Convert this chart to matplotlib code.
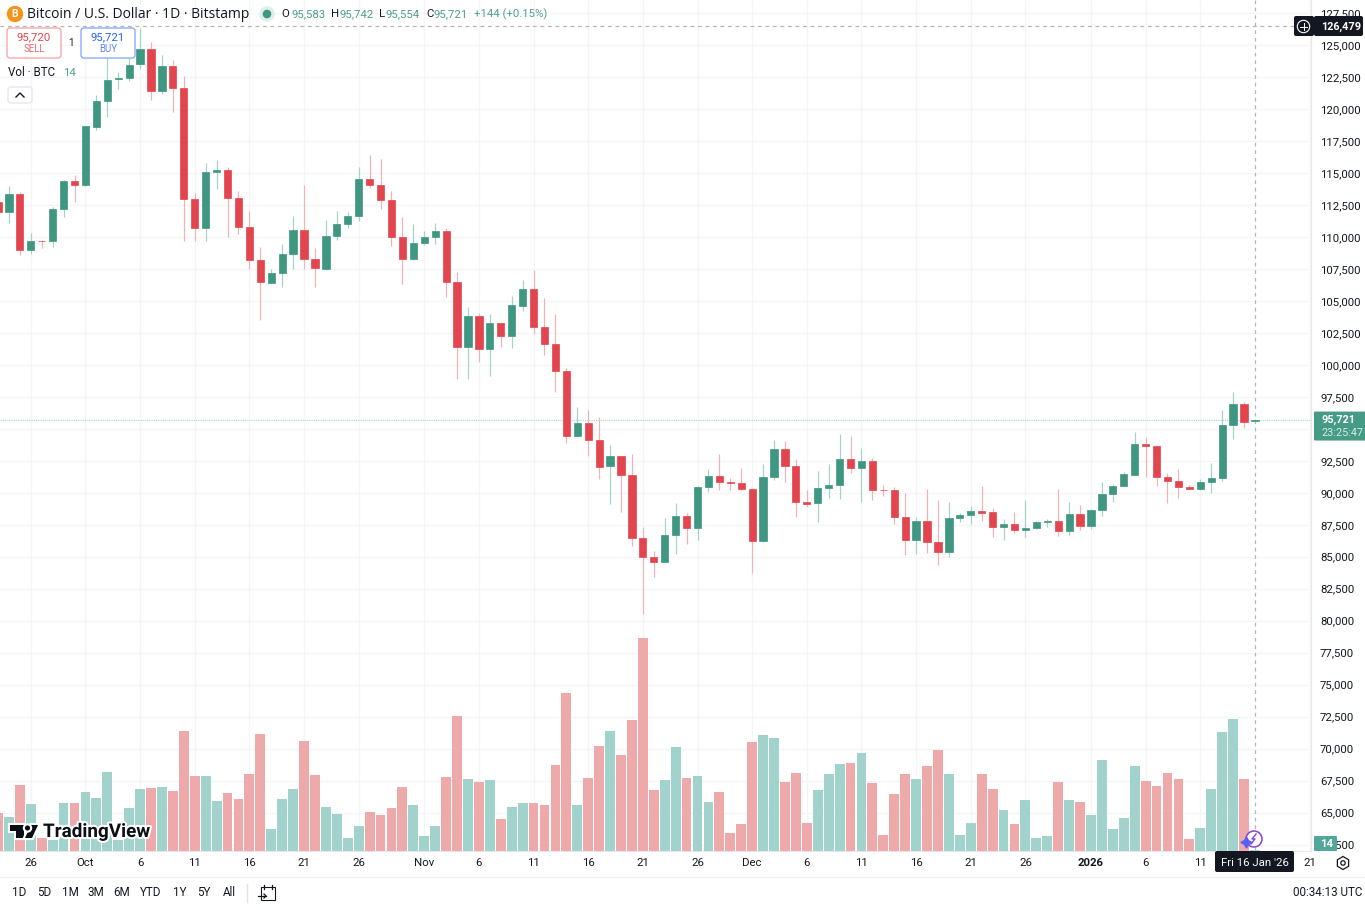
import numpy as np
import matplotlib
matplotlib.use('Agg')
import matplotlib.pyplot as plt
from matplotlib.patches import Circle, FancyBboxPatch, Polygon, Rectangle, RegularPolygon
import matplotlib.patheffects as pe

plt.rcParams['font.family'] = ['Open Sans', 'DejaVu Sans']
NUM_FONT = ['Roboto', 'DejaVu Sans']

# daily BTC/USD candles, 23 Sep 2025 to 16 Jan 2026
opens = [112728, 111969, 113353, 108976, 109703, 109656, 112180, 114346, 114033, 118614,
         120599, 122319, 122397, 123491, 124688, 121381, 123359, 121662, 112962, 110719,
         115073, 115229, 113064, 110773, 108170, 106419, 107178, 108640, 110539, 108248,
         107465, 110070, 111008, 111610, 114502, 114080, 112861, 109992, 108248, 109500,
         109968, 110484, 106495, 101393, 103840, 101213, 103246, 102229, 104621, 105950,
         102956, 101604, 99540, 94435, 95476, 94123, 92067, 92872, 91410, 86440,
         85001, 84610, 86720, 88205, 87267, 90426, 91286, 90863, 90762, 90316,
         86204, 91231, 93420, 92067, 89277, 89175, 90348, 90582, 92614, 91957,
         92505, 90238, 90215, 88127, 86330, 87791, 86173, 85392, 88000, 88237,
         88573, 88471, 87345, 87557, 87088, 87213, 87713, 87791, 87033, 88338,
         87400, 88674, 89879, 90528, 91410, 93835, 93653, 91231, 90942, 90426,
         90293, 90816, 91129, 95319, 96913, 95583]
highs = [112962, 113978, 113486, 110328, 109781, 112360, 114424, 114838, 118700, 121092,
         123984, 122913, 123984, 126329, 125212, 124219, 123804, 122554, 113455, 115800,
         116011, 115464, 113611, 112024, 109234, 107465, 109445, 111657, 114056, 109109,
         111320, 112048, 111922, 115440, 116377, 116066, 113611, 111579, 111008, 110461,
         111110, 110672, 107231, 104497, 104074, 103973, 103280, 105380, 106607, 107435,
         105247, 103973, 99730, 96680, 96492, 95898, 93708, 92900, 93005, 87322,
         85470, 88026, 89175, 88393, 90551, 91880, 93056, 91129, 91934, 90340,
         92247, 94123, 94021, 92614, 90215, 91700, 92247, 94590, 94457, 93521,
         92740, 90606, 90426, 89980, 88080, 90269, 89410, 89300, 88440, 88964,
         90504, 88830, 87948, 88471, 89433, 87815, 87948, 90269, 89254, 89019,
         88700, 90863, 90660, 91645, 94724, 94382, 93680, 91520, 91880, 90630,
         91098, 92348, 96445, 97899, 97093, 95742]
lows = [111165, 111110, 108608, 108663, 109132, 109234, 111579, 112704, 113990, 118356,
        119395, 121561, 122210, 123124, 120701, 121147, 119740, 109703, 109703, 109703,
        113744, 109968, 110203, 107465, 103504, 106372, 106107, 107465, 107465, 106107,
        107440, 109757, 110719, 111242, 113845, 112180, 109265, 106317, 108220, 109366,
        109445, 105278, 98892, 98916, 100244, 99150, 101393, 101338, 104230, 102433,
        100791, 97899, 93912, 94410, 92896, 91098, 89144, 88472, 85860, 80522,
        83390, 84585, 85212, 86018, 86283, 90058, 90191, 90191, 90245, 83752,
        86180, 90996, 90863, 88127, 88885, 87737, 89566, 89535, 91543, 89254,
        89433, 89745, 87557, 85110, 85190, 85267, 84352, 85001, 87737, 87533,
        87815, 86516, 86330, 86830, 86563, 87166, 87345, 86642, 86720, 87088,
        87190, 88205, 89277, 90505, 91385, 91231, 90528, 89175, 89613, 90269,
        90215, 89980, 90918, 94225, 95085, 95554]
closes = [111946, 113330, 108976, 109656, 109656, 112180, 114369, 114033, 118645, 120599,
          122265, 122397, 123460, 124688, 121381, 123359, 121639, 112962, 110719, 115049,
          115229, 113040, 110773, 108170, 106450, 107201, 108640, 110539, 108295, 107544,
          110070, 111008, 111633, 114502, 114056, 112861, 109992, 108248, 109523, 110015,
          110484, 106495, 101393, 103840, 101213, 103246, 102229, 104676, 105950, 102933,
          101604, 99540, 94435, 95476, 94100, 91989, 92872, 91410, 86462, 84978,
          84610, 86720, 88205, 87267, 90426, 91286, 90840, 90762, 90269, 86204,
          91231, 93420, 92067, 89277, 89144, 90348, 90582, 92614, 91957, 92505,
          90215, 90191, 88103, 86330, 87791, 86126, 85392, 88026, 88261, 88573,
          88440, 87345, 87557, 87088, 87245, 87737, 87791, 87033, 88338, 87400,
          88674, 89879, 90528, 91465, 93835, 93630, 91231, 90942, 90426, 90293,
          90816, 91152, 95319, 96913, 95507, 95721]
volumes = [760, 686, 1326, 946, 260, 220, 960, 960, 1174, 1066,
           1580, 220, 866, 1234, 1260, 1280, 1200, 2394, 1506, 1506,
           1000, 1154, 1040, 1534, 2340, 446, 1040, 1234, 2200, 1520,
           886, 734, 260, 506, 780, 726, 866, 1274, 926, 306,
           506, 1486, 2694, 1446, 1380, 1420, 634, 886, 960, 954,
           914, 1714, 3154, 914, 1460, 2100, 2400, 1914, 2614, 4260,
           1220, 1414, 2080, 1460, 1506, 986, 1174, 366, 534, 2174,
           2314, 2254, 1380, 1566, 554, 1220, 1540, 1734, 1766, 1960,
           1354, 314, 1146, 1540, 1446, 1700, 2020, 1534, 314, 554,
           1540, 1234, 814, 540, 1020, 266, 306, 1386, 1020, 980,
           720, 1814, 434, 654, 1706, 1400, 1294, 1554, 1434, 234,
           460, 1234, 2386, 2640, 1434, 14]

time_ticks = [3, 8, 13, 18, 23, 28, 33, 39, 44, 49, 54, 59, 64, 69, 74, 79, 84, 89, 94, 100, 105, 110, 120]
time_labels = ['26', 'Oct', '6', '11', '16', '21', '26', 'Nov', '6', '11', '16', '21', '26', 'Dec',
               '6', '11', '16', '21', '26', '2026', '6', '11', '21']
price_ticks = list(range(62500, 127501, 2500))
range_buttons = ['1D', '5D', '1M', '3M', '6M', 'YTD', '1Y', '5Y', 'All']
button_x = [19, 44, 70, 96, 122, 151, 180, 204, 229]

UP = '#3f9781'
DOWN = '#e2454e'
UP_WICK = '#a3d2c6'
DOWN_WICK = '#f4b1b5'
UP_VOL = '#a1d2cc'
DOWN_VOL = '#eeaaaa'
INK = '#131722'
GRID = '#f4f5f7'

W, H = 1365, 910
pane_w, pane_h = 1311, 851

fig = plt.figure(figsize=(W / 100, H / 100), dpi=100, facecolor='white')
ax = fig.add_axes([0, (H - pane_h) / H, pane_w / W, pane_h / H], zorder=1)
vol_ax = fig.add_axes(ax.get_position(), zorder=2, sharex=ax)

x = np.arange(len(opens))
o, h, l, c = map(np.array, (opens, highs, lows, closes))
up = c >= o

# candles
ax.vlines(x, l, h, colors=np.where(up, UP_WICK, DOWN_WICK), linewidth=0.85, zorder=3)
ax.bar(x, np.abs(c - o), bottom=np.minimum(o, c), width=0.66, color=np.where(up, UP, DOWN),
       edgecolor=np.where(up, UP, DOWN), linewidth=0.5, zorder=4)
ax.axhline(closes[-1], color='#a8d8cc', linewidth=0.8, linestyle=(0, (1, 1)), zorder=2)

ax.set_xlim(0.183, 120.13)
ax.set_ylim(61995, 128518)
ax.set_xticks(time_ticks)
ax.set_xticklabels(time_labels, fontfamily=NUM_FONT)
ax.set_yticks(price_ticks)
ax.set_yticklabels([f'{p:,}' for p in price_ticks], fontfamily=NUM_FONT)
ax.yaxis.tick_right()
ax.grid(True, color=GRID, linewidth=0.9)
ax.set_axisbelow(True)
ax.tick_params(axis='x', length=0, pad=5, labelsize=8.2, labelcolor=INK)
ax.tick_params(axis='y', length=0, pad=6.5, labelsize=8.2, labelcolor=INK)
for lab in ax.get_xticklabels():
    if lab.get_text() == '2026':
        lab.set_fontweight('bold')
for side in ('top', 'left'):
    ax.spines[side].set_visible(False)
for side in ('right', 'bottom'):
    ax.spines[side].set_color('#e6e8ee')

# volume pane shares the candle x axis
vol_ax.bar(x, volumes, width=0.9, color=np.where(up, UP_VOL, DOWN_VOL), linewidth=0)
vol_ax.set_ylim(0, 17020)
vol_ax.patch.set_visible(False)
vol_ax.axis('off')

# crosshair on the last bar and the all-time high
ax.axvline(x[-1], color='#b4b6bd', linewidth=0.9, linestyle=(0, (3, 3)), zorder=2)
ax.axhline(126479, color='#b4b6bd', linewidth=0.9, linestyle=(0, (3, 3)), zorder=2)

# chart furniture drawn in screen pixels
ui = fig.add_axes([0, 0, 1, 1], zorder=5)
ui.set_xlim(0, W)
ui.set_ylim(H, 0)
ui.axis('off')


def label(px, py, s, size=8.2, color=INK, ha='left', **kw):
    kw.setdefault('family', NUM_FONT)
    return ui.text(px, py, s, fontsize=size, color=color, ha=ha, va='center', **kw)


def box(x0, y0, x1, y1, fc, ec='none', r=3, lw=1):
    p = FancyBboxPatch((x0 + r, y0 + r), x1 - x0 - 2 * r, y1 - y0 - 2 * r,
                       boxstyle=f'round,pad={r},rounding_size={r}', fc=fc, ec=ec, lw=lw)
    ui.add_patch(p)


# header row
ui.add_patch(Circle((15, 14), 7.5, color='#f7931a'))
label(15, 14, 'B', size=7.5, color='white', ha='center', fontweight='bold')
label(27, 14, 'Bitcoin / U.S. Dollar · 1D · Bitstamp', size=10, family=['Open Sans'])
ui.add_patch(Circle((267, 14), 7, color='#dcefea'))
ui.add_patch(Circle((267, 14), 3.6, color=UP))
val_green = '#4f9f8b'
for px, s, col in [(281.5, 'O', INK), (291, '95,583', val_green), (331, 'H', INK), (339, '95,742', val_green),
                   (379, 'L', INK), (385.5, '95,554', val_green), (426, 'C', INK), (434, '95,721', val_green),
                   (474, '+144 (+0.15%)', val_green)]:
    label(px, 14, s, size=8.2, color=col)

# sell / buy buttons
box(7, 28, 61, 58, 'white', '#f5a9ae')
label(34, 37, '95,720', size=8.2, color=DOWN, ha='center')
label(34, 49, 'SELL', size=7, color='#ee6a72', ha='center')
label(71, 43, '1', size=7, ha='center')
box(81, 28, 135, 58, 'white', '#8fa9fb')
label(108, 37, '95,721', size=8.2, color='#2962ff', ha='center')
label(108, 49, 'BUY', size=7, color='#5a86fb', ha='center')
label(8, 73, 'Vol · BTC', size=8.4)
label(63, 73, '14', size=8.2, color=val_green)
box(8, 87, 32, 103, 'white', '#e6e8ee')
ui.plot([16, 20, 24], [97, 93, 97], color=INK, lw=1)

# price and volume tags on the right axis
tag_y = H - ax.transData.transform((0, closes[-1]))[1]
box(1314, tag_y - 8, 1366, tag_y + 21, '#459b85', r=1)
label(1321, tag_y + 0.5, f'{closes[-1]:,}', size=7.8, color='white', fontweight='bold')
label(1321, tag_y + 13, '23:25:47', size=7.8, color='#d8ece7')
box(1294, 16, 1314, 36, '#131722', r=2)
ui.add_patch(Circle((1303.5, 26.5), 6.2, fc='none', ec='white', lw=0.8))
ui.plot([1300, 1307], [26.5, 26.5], color='white', lw=0.7)
ui.plot([1303.5, 1303.5], [23, 30], color='white', lw=0.7)
box(1314, 16, 1363, 36, '#131722', r=2)
label(1321, 26.5, '126,479', size=7.8, color='white', fontweight='bold')
box(1314, 836, 1337, 851, '#52a79a', r=1)
label(1327, 844, '14', size=8.2, color='white', ha='center', fontweight='bold')

# date tag under the crosshair
box(1215, 851, 1294, 872, '#131722', r=2)
label(1254.5, 862.5, "Fri 16 Jan '26", size=8.2, color='white', ha='center')

# settings icon
ui.add_patch(RegularPolygon((1343, 863), 6, radius=6.5, fc='none', ec=INK, lw=0.9))
ui.add_patch(Circle((1343, 863), 2.2, fc='none', ec=INK, lw=0.9))

# lightning badge
ui.add_patch(Circle((1254, 839), 8, fc='white', ec='#8e3fd4', lw=1.1))
ui.plot([1256, 1252, 1255, 1251], [834, 839, 839, 844], color='#8e3fd4', lw=1)
ui.plot([1245.5], [842], marker=(4, 1, 0), markersize=8, color='#5b5ff0', linestyle='none')

# TradingView watermark
halo = [pe.withStroke(linewidth=3, foreground='white')]
label(43, 832, 'TradingView', size=13.6, color='#0b0e14', fontweight='bold', family=['Roboto'], path_effects=halo)
for shape in ([(10, 825), (24, 825), (24, 838), (16, 838), (16, 831), (10, 831)],
              [(31, 825), (38, 825), (32, 838), (25, 838)]):
    ui.add_patch(Polygon(shape, closed=True, fc='#0b0e14', ec='none', path_effects=halo))
ui.add_patch(Circle((27.5, 828), 2.6, fc='#0b0e14', ec='none', path_effects=halo))

# bottom toolbar
ui.plot([0, W], [876.5, 876.5], color='#eceef2', lw=0.9)
for px, s in zip(button_x, range_buttons):
    label(px, 893, s, size=8.4, ha='center')
ui.plot([246.5, 246.5], [884, 902], color='#e0e3eb', lw=1)
ui.add_patch(Rectangle((261, 887), 14, 13, fc='none', ec=INK, lw=0.8))
ui.plot([258, 266], [896, 896], color=INK, lw=0.9)
ui.plot([264, 266, 264], [894, 896, 898], color=INK, lw=0.9)
ui.plot([264, 264], [885, 889], color=INK, lw=0.9)
ui.plot([272, 272], [885, 889], color=INK, lw=0.9)
label(1362, 893, '00:34:13 UTC', size=8.4, ha='right')

fig.savefig('out.png', dpi=100)
